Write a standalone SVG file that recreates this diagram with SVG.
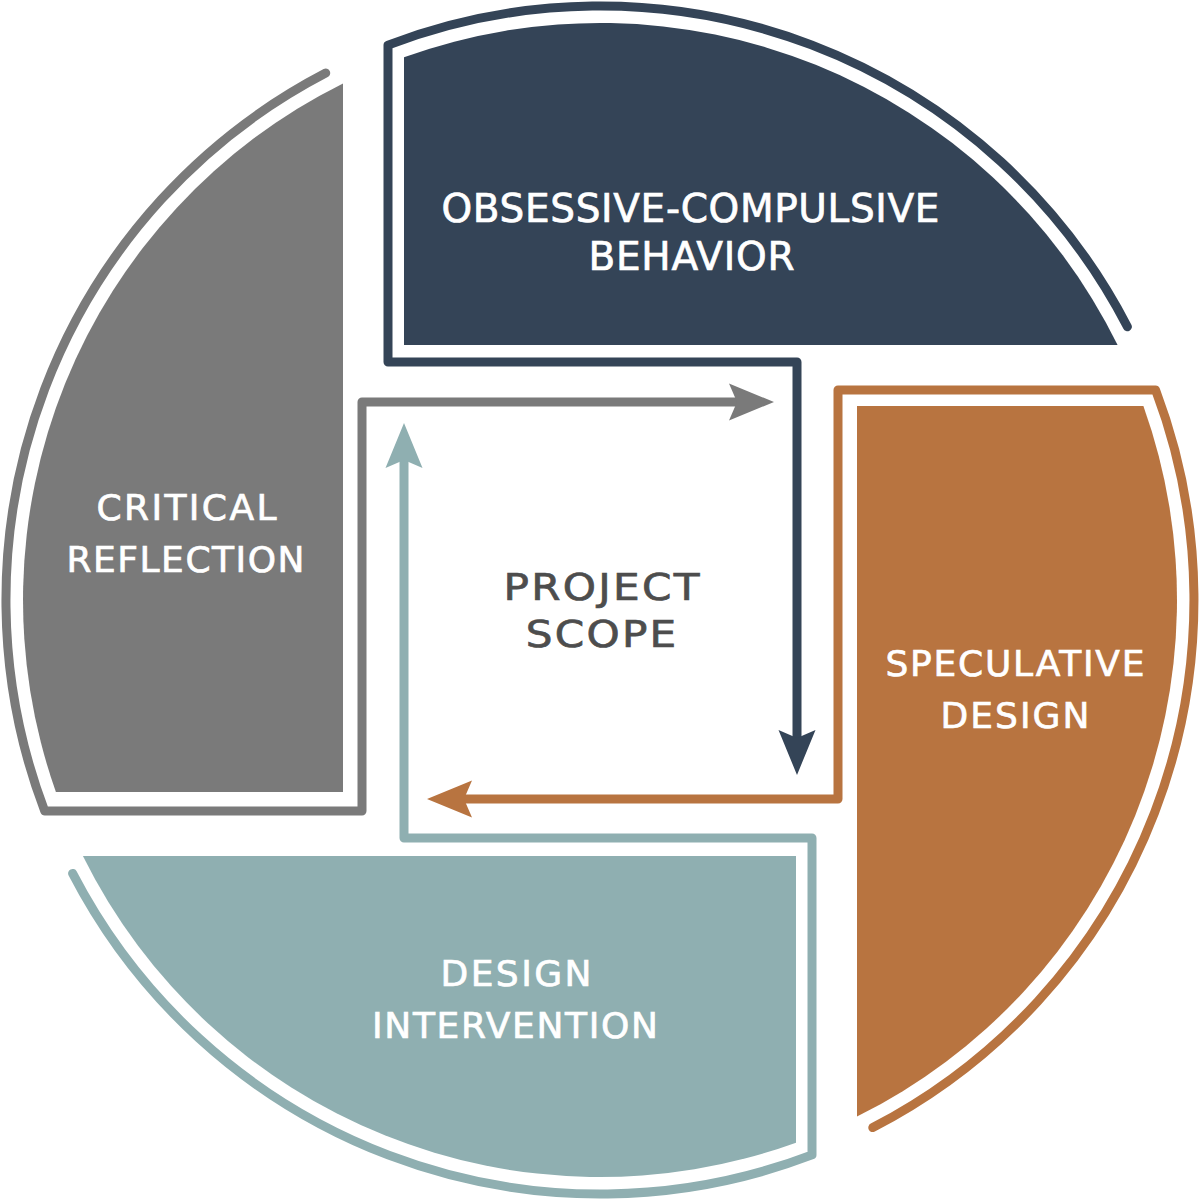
<svg xmlns="http://www.w3.org/2000/svg" width="1200" height="1200" viewBox="0 0 1200 1200">
  <style>
    .lbl { font-family: "DejaVu Sans", "Liberation Sans", sans-serif; fill: #ffffff; stroke: #ffffff; stroke-width: 0.7; text-anchor: middle; }
    .center { font-family: "DejaVu Sans", "Liberation Sans", sans-serif; fill: #4d4d4d; stroke: #4d4d4d; stroke-width: 0.7; text-anchor: middle; }
    .ol { fill: none; stroke-width: 9; stroke-linejoin: round; stroke-linecap: round; }
    .navy { fill: #344457; }
    .rust { fill: #b87440; }
    .teal { fill: #8fafb1; }
    .grey { fill: #7a7a7a; }
  </style>
  <defs>
    <marker id="ah-navy" markerUnits="userSpaceOnUse" markerWidth="46" markerHeight="38" viewBox="0 0 46 38" refX="8" refY="19" orient="auto">
      <path d="M0 0.5 L45 19 L0 37.5 L8 19 Z" fill="#344457"/>
    </marker>
    <marker id="ah-rust" markerUnits="userSpaceOnUse" markerWidth="46" markerHeight="38" viewBox="0 0 46 38" refX="8" refY="19" orient="auto">
      <path d="M0 0.5 L45 19 L0 37.5 L8 19 Z" fill="#b87440"/>
    </marker>
    <marker id="ah-teal" markerUnits="userSpaceOnUse" markerWidth="46" markerHeight="38" viewBox="0 0 46 38" refX="8" refY="19" orient="auto">
      <path d="M0 0.5 L45 19 L0 37.5 L8 19 Z" fill="#8fafb1"/>
    </marker>
    <marker id="ah-grey" markerUnits="userSpaceOnUse" markerWidth="46" markerHeight="38" viewBox="0 0 46 38" refX="8" refY="19" orient="auto">
      <path d="M0 0.5 L45 19 L0 37.5 L8 19 Z" fill="#7a7a7a"/>
    </marker>
  </defs>

  <rect x="0" y="0" width="1200" height="1200" fill="#ffffff"/>

  <g id="node-obsessive">
    <path class="navy" d="M404 345 L404 57.3 A577 577 0 0 1 1117.6 345 Z"/>
    <text class="lbl" font-size="39" x="690.5" y="222" textLength="498" lengthAdjust="spacing">OBSESSIVE-COMPULSIVE</text>
    <text class="lbl" font-size="39" x="691.5" y="270" textLength="206" lengthAdjust="spacing">BEHAVIOR</text>
  </g>

  <g id="node-speculative">
    <path class="rust" d="M857 406 L1143.4 406 A577 577 0 0 1 857 1116.6 Z"/>
    <text class="lbl" font-size="36" x="1015" y="676" textLength="259" lengthAdjust="spacing">SPECULATIVE</text>
    <text class="lbl" font-size="36" x="1015" y="728" textLength="149" lengthAdjust="spacing">DESIGN</text>
  </g>

  <g id="node-intervention">
    <path class="teal" d="M796 856 L796 1142.7 A577 577 0 0 1 82.9 856 Z"/>
    <text class="lbl" font-size="36" x="516" y="986" textLength="151" lengthAdjust="spacing">DESIGN</text>
    <text class="lbl" font-size="36" x="515" y="1038" textLength="286" lengthAdjust="spacing">INTERVENTION</text>
  </g>

  <g id="node-reflection">
    <path class="grey" d="M343 792 L55.9 792 A577 577 0 0 1 343 83.4 Z"/>
    <text class="lbl" font-size="36" x="186.5" y="520" textLength="180" lengthAdjust="spacing">CRITICAL</text>
    <text class="lbl" font-size="36" x="185.5" y="572" textLength="238" lengthAdjust="spacing">REFLECTION</text>
  </g>

  <g id="node-scope">
    <text class="center" font-size="37" transform="translate(601.5 600) scale(1.14 1)" x="0" y="0" textLength="172" lengthAdjust="spacing">PROJECT</text>
    <text class="center" font-size="37" transform="translate(601 647) scale(1.14 1)" x="0" y="0" textLength="132" lengthAdjust="spacing">SCOPE</text>
  </g>

  <g id="connectors">
    <path class="ol" stroke="#344457" marker-end="url(#ah-navy)" d="M1127.4 326.7 A594 594 0 0 0 388 45.1 L388 362 L797 362 L797 738"/>
    <path class="ol" stroke="#b87440" marker-end="url(#ah-rust)" d="M872.8 1127.6 A594 594 0 0 0 1155.6 390 L838 390 L838 799 L464 799"/>
    <path class="ol" stroke="#8fafb1" marker-end="url(#ah-teal)" d="M72.6 873.4 A594 594 0 0 0 812 1154.9 L812 838 L404 838 L404 460"/>
    <path class="ol" stroke="#7a7a7a" marker-end="url(#ah-grey)" d="M325.7 73.1 A594 594 0 0 0 44.7 811 L362 811 L362 402 L737 402"/>
  </g>
</svg>
